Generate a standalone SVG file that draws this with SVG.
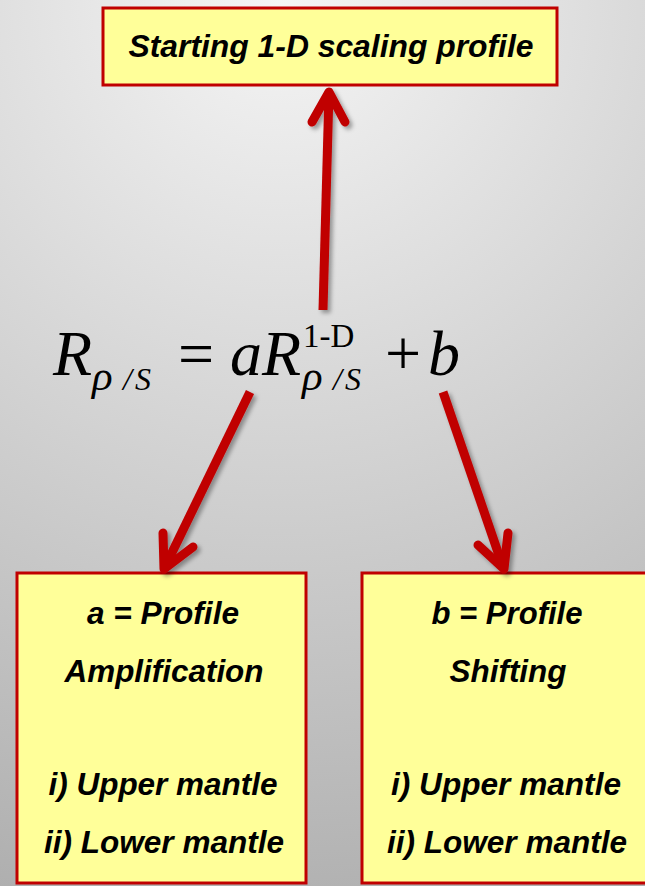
<svg xmlns="http://www.w3.org/2000/svg" width="645" height="886" viewBox="0 0 645 886">
  <defs>
    <radialGradient id="bg" gradientUnits="userSpaceOnUse" cx="280" cy="0" r="1050">
      <stop offset="0" stop-color="#f5f5f5"/>
      <stop offset="1" stop-color="#a6a6a6"/>
    </radialGradient>
    <filter id="shadow" x="-50%" y="-20%" width="200%" height="140%">
      <feDropShadow dx="3" dy="3" stdDeviation="2" flood-color="#000" flood-opacity="0.35"/>
    </filter>
  </defs>
  <style>
    .box { fill: #ffff99; stroke: #c00000; stroke-width: 3; }
    .lbl { font-family: "Liberation Sans", Arial, sans-serif; font-weight: bold; font-style: italic; fill: #000; text-anchor: middle; }
    .arrow { fill: none; stroke: #c00000; stroke-width: 9; stroke-linejoin: round; }
    .shaft { stroke-linecap: butt; }
    .head { stroke-linecap: round; }
    .eq { font-family: "Liberation Serif", "Times New Roman", serif; fill: #000; }
    .it { font-style: italic; }
  </style>
  <rect x="0" y="0" width="645" height="886" fill="url(#bg)"/>

  <g id="node-top">
    <rect class="box" x="103" y="8" width="454" height="77"/>
    <text class="lbl" x="331" y="57" font-size="32" textLength="405" lengthAdjust="spacingAndGlyphs">Starting 1-D scaling profile</text>
  </g>

  <g id="node-equation" class="eq">
    <text class="it" x="53" y="375" font-size="64">R</text>
    <text class="it" x="92" y="390" font-size="43">ρ</text>
    <text class="it" x="123" y="390" font-size="32">/</text>
    <text class="it" x="135" y="390" font-size="32">S</text>
    <text x="178" y="375" font-size="64">=</text>
    <text class="it" x="230" y="375" font-size="64">a</text>
    <text class="it" x="262" y="375" font-size="64">R</text>
    <text x="303" y="347" font-size="33">1-D</text>
    <text class="it" x="302" y="390" font-size="43">ρ</text>
    <text class="it" x="333" y="390" font-size="32">/</text>
    <text class="it" x="345" y="390" font-size="32">S</text>
    <text x="385" y="375" font-size="64">+</text>
    <text class="it" x="428" y="375" font-size="64">b</text>
  </g>

  <g id="node-a">
    <rect class="box" x="17" y="573" width="289" height="310"/>
    <text class="lbl" x="163" y="624" font-size="32" textLength="152" lengthAdjust="spacingAndGlyphs">a = Profile</text>
    <text class="lbl" x="164" y="682" font-size="32" textLength="199" lengthAdjust="spacingAndGlyphs">Amplification</text>
    <text class="lbl" x="163" y="795" font-size="32" textLength="229" lengthAdjust="spacingAndGlyphs">i) Upper mantle</text>
    <text class="lbl" x="164" y="853" font-size="32" textLength="240" lengthAdjust="spacingAndGlyphs">ii) Lower mantle</text>
  </g>

  <g id="node-b">
    <rect class="box" x="362" y="573" width="289" height="310"/>
    <text class="lbl" x="507" y="624" font-size="32" textLength="151" lengthAdjust="spacingAndGlyphs">b = Profile</text>
    <text class="lbl" x="508" y="682" font-size="32" textLength="117" lengthAdjust="spacingAndGlyphs">Shifting</text>
    <text class="lbl" x="506" y="795" font-size="32" textLength="230" lengthAdjust="spacingAndGlyphs">i) Upper mantle</text>
    <text class="lbl" x="507" y="853" font-size="32" textLength="240" lengthAdjust="spacingAndGlyphs">ii) Lower mantle</text>
  </g>

  <g id="connectors" filter="url(#shadow)">
    <g class="arrow">
      <line class="shaft" x1="323" y1="310" x2="329" y2="92"/>
      <polyline class="head" points="312,122 329,92 345,122"/>
    </g>
    <g class="arrow">
      <line class="shaft" x1="250" y1="392" x2="165" y2="567"/>
      <polyline class="head" points="163,533 164,569 193,547"/>
    </g>
    <g class="arrow">
      <line class="shaft" x1="443" y1="392" x2="503" y2="567"/>
      <polyline class="head" points="478,545 504,569 508,533"/>
    </g>
  </g>
</svg>
